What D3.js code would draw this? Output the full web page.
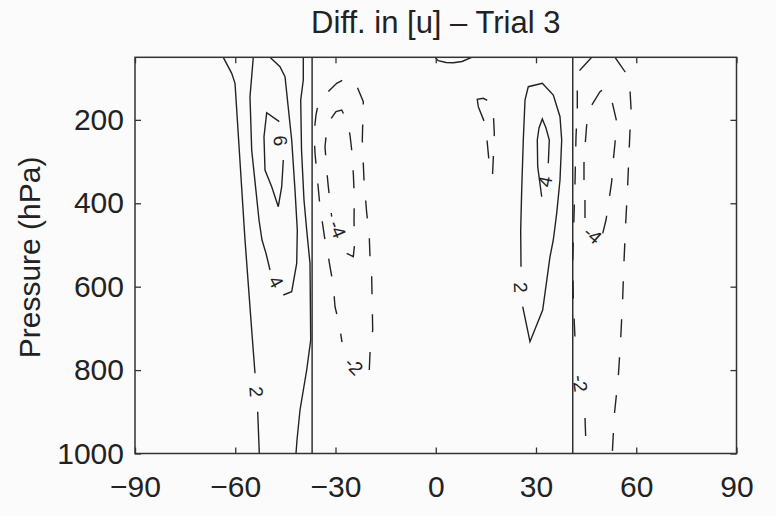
<!DOCTYPE html>
<html>
<head>
<meta charset="utf-8">
<script src="https://cdn.jsdelivr.net/npm/d3@7"></script>
<style>
  html, body { margin: 0; padding: 0; background: #fbfbfb; }
  svg { display: block; font-family: "Liberation Sans", Arial, Helvetica, sans-serif; }
</style>
</head>
<body>
<script>
// chart size
var width = 776,
    height = 516;
var margin = {top: 57.3, right: 39.5, bottom: 62.5, left: 135};

// ticks
var latTicks = [-90, -60, -30, 0, 30, 60, 90];
var presTicks = [200, 400, 600, 800, 1000];

// jet latitudes (vertical lines)
var jetLats = [-37, 41];

// contours: [lat, hPa], {t, lat, p} marks a label break
var pos2West = [[-63.58, 50], [-61.06, 88.4], [-60.07, 112.3], [-57.08, 488.1], [-55.08, 703.9], [-54.09, 807.7],
  {t: "2", lat: -53.7, p: 852}, [-53.28, 899.8], [-52.80, 1000]];
var pos2WestB = [[-39.64, 50], [-39.64, 104.4], [-40.41, 152.4], [-40.17, 272.3], [-39.43, 392.2], [-38.62, 464.1],
  [-37.63, 544.0], [-37.42, 727.9], [-38.62, 799.8], [-40.62, 895.7], [-41.52, 967.6], [-41.82, 1000]];
var pos4West = [[-54.60, 50], [-55.59, 144.5], [-55.08, 272.3], [-52.89, 440.1], [-51.99, 488.1], [-50.80, 520.0],
  [-49.60, 560.0], {t: "4", lat: -47.8, p: 588}, [-45.62, 620.0], [-43.11, 612.0], [-41.61, 544.0], [-41.43, 464.1],
  [-42.12, 368.2], [-43.11, 248.3], [-45.11, 96.5], [-46.61, 72.5], [-49.60, 50]];
var pos6West = [[-46.82, 204.4], [-50.59, 182.8], [-51.40, 240.4], [-51.10, 320.2], [-49.09, 360.3], [-47.12, 408.2],
  [-46.10, 360.3], [-45.62, 296.3], {t: "6", lat: -46.5, p: 250}, [-46.82, 204.4]];
var neg2West = [[-19.89, 799.8], [-19.68, 759.8], [-18.87, 703.9], [-19.17, 576.1], [-19.68, 528.1], [-19.89, 480.2],
  [-20.66, 423.3], [-21.47, 344.2], [-21.98, 248.3], [-21.68, 156.5], [-24.16, 108.5], [-27.16, 102.0],
  [-29.64, 112.3], [-33.14, 140.4], [-35.24, 164.4], [-35.84, 188.4], [-36.43, 232.2], [-36.13, 280.2],
  [-34.64, 408.2], [-33.14, 488.1], [-32.63, 504.1], [-31.65, 552.1], [-30.66, 596.0], [-30.15, 648.0],
  [-28.95, 687.8], [-28.05, 732.7], {t: "-2", lat: -24.5, p: 790}, [-19.89, 799.8]];
var neg4West = [[-26.65, 520.0], [-24.67, 528.1], [-24.31, 500.1], [-24.46, 440.1], [-24.37, 384.3], [-24.67, 328.1],
  [-25.15, 272.3], [-25.66, 236.3], [-26.65, 200.3], [-28.14, 176.4], [-29.85, 180.4], [-31.65, 200.3],
  [-32.63, 224.3], [-33.14, 264.4], [-32.63, 320.2], [-32.15, 360.3], [-31.14, 432.2],
  {t: "-4", lat: -29.4, p: 462}, [-26.65, 520.0]];
var pos2Top = [[-0.22, 50], [0.76, 58.2], [3.07, 62.5], [5.25, 62.9], [7.86, 60.1], [10.76, 50]];
var neg2Mid = [[12.73, 168.5], [12.43, 150.7], [14.23, 148.3], [16.23, 156.5], [17.22, 182.8], [17.52, 232.2],
  [17.34, 272.3], [16.98, 334.6], [16.02, 305.9], [15.43, 256.2], [15.04, 214.7], [12.73, 168.5]];
var pos2East = [[26.02, 648.0], [28.20, 731.9], [32.00, 655.9], [34.19, 528.1], [35.18, 488.1], [36.19, 424.1],
  [37.18, 344.2], [37.69, 248.3], [37.18, 192.4], [35.18, 140.4], [31.89, 112.3], [27.70, 120.5], [26.71, 152.4],
  [26.20, 248.3], [25.72, 368.2], [25.42, 464.1], [25.51, 552.1], {t: "2", lat: 25.4, p: 602}, [26.02, 648.0]];
var pos4East = [[31.71, 384.3], [30.51, 312.3], [30.39, 248.3], [30.90, 219.5], [31.89, 197.9], [32.99, 219.5],
  [33.98, 248.3], [33.68, 304.2], {t: "4", lat: 32.69, p: 348}, [31.71, 384.3]];
var neg2EastA = [[46.67, 50], [43.17, 80.5], [42.36, 128.4], [42.36, 171.6], [41.97, 240.4], [41.67, 352.1],
  [41.16, 488.1], [40.98, 536.0], [41.16, 632.0], [41.67, 723.8], {t: "-2", lat: 43.2, p: 832},
  [44.66, 914.9], [44.87, 959.7], [44.96, 1000]];
var neg2EastB = [[53.64, 50], [56.63, 84.5], [58.13, 128.4], [58.43, 172.3], [57.92, 264.4], [57.44, 356.2],
  [56.84, 448.0], [56.33, 540.1], [55.94, 627.9], [55.35, 723.8], [54.63, 815.9], [53.43, 907.7], [52.83, 1000]];
var neg4East = [[49.96, 472.0], [50.95, 440.1], [51.93, 388.1], [52.65, 348.3], [53.13, 296.3], [53.64, 256.2],
  [54.15, 204.4], [52.65, 152.4], [50.65, 124.3], [49.15, 132.5], [46.16, 171.6], [45.17, 212.3], [44.66, 264.4],
  [44.36, 304.2], [44.36, 352.1], [44.66, 396.2], [44.66, 435.3], {t: "-4", lat: 47.0, p: 476}, [49.96, 472.0]];

var contours = [
  {level: 2, pts: pos2West}, {level: 2, pts: pos2WestB}, {level: 4, pts: pos4West}, {level: 6, pts: pos6West},
  {level: -2, pts: neg2West}, {level: -4, pts: neg4West}, {level: 2, pts: pos2Top}, {level: -2, pts: neg2Mid},
  {level: 2, pts: pos2East}, {level: 4, pts: pos4East}, {level: -2, pts: neg2EastA}, {level: -2, pts: neg2EastB},
  {level: -4, pts: neg4East}
];

// scales
var x = d3.scaleLinear().domain([-90, 90]).range([margin.left, width - margin.right]);
var y = d3.scaleLinear().domain([50, 1000]).range([margin.top, height - margin.bottom]);

var svg = d3.select("body")
    .append("svg")
    .attr("width", width)
    .attr("height", height);

svg.append("rect")
    .attr("width", width)
    .attr("height", height)
    .attr("fill", "#fbfbfb");

// title
svg.append("text")
    .attr("x", (x(-90) + x(90)) / 2)
    .attr("y", 33)
    .attr("text-anchor", "middle")
    .attr("font-size", "31px")
    .attr("fill", "#222")
    .text("Diff. in [u] \u2013 Trial 3");

// y label
svg.append("text")
    .attr("transform", "translate(40," + ((y(50) + y(1000)) / 2 + 2) + ") rotate(-90)")
    .attr("text-anchor", "middle")
    .attr("font-size", "30px")
    .attr("fill", "#222")
    .text("Pressure (hPa)");

var plot = svg.append("g");
plot.append("clipPath").attr("id", "clip")
  .append("rect")
    .attr("x", x(-90)).attr("y", y(50))
    .attr("width", x(90) - x(-90)).attr("height", y(1000) - y(50));

var line = d3.line()
    .x(function(d) { return x(d[0]); })
    .y(function(d) { return y(d[1]); });

var lines = plot.append("g").attr("clip-path", "url(#clip)");

// vertical jet lines
lines.selectAll(".jet")
    .data(jetLats)
    .enter()
    .append("line")
    .attr("x1", function(d) { return x(d); })
    .attr("x2", function(d) { return x(d); })
    .attr("y1", y(50))
    .attr("y2", y(1000))
    .attr("stroke", "#222")
    .attr("stroke-width", 1.4);

// contours, split into pieces at label breaks
contours.forEach(function(c) {
    var pieces = [[]];
    var labels = [];
    c.pts.forEach(function(d, i) {
        if (Array.isArray(d)) {
            pieces[pieces.length - 1].push(d);
        } else {
            var a = c.pts[i - 1], b = c.pts[i + 1];
            var ang = Math.atan2(y(b[1]) - y(a[1]), x(b[0]) - x(a[0])) * 180 / Math.PI;
            if (ang > 90) ang -= 180;
            if (ang <= -90) ang += 180;
            labels.push({t: d.t, lat: d.lat, p: d.p, ang: ang});
            pieces.push([]);
        }
    });

    lines.selectAll(null)
        .data(pieces.filter(function(p) { return p.length > 1; }))
        .enter()
        .append("path")
        .attr("d", line)
        .attr("fill", "none")
        .attr("stroke", "#222")
        .attr("stroke-width", 1.4)
        .attr("stroke-dasharray", c.level < 0 ? "18,20" : null);

    lines.selectAll(null)
        .data(labels)
        .enter()
        .append("text")
        .attr("transform", function(d) {
            return "translate(" + x(d.lat) + "," + y(d.p) + ") rotate(" + d.ang + ")";
        })
        .attr("text-anchor", "middle")
        .attr("dy", "0.35em")
        .attr("font-size", "19px")
        .attr("fill", "#222")
        .text(function(d) { return d.t; });
});

// axes
var axisColor = "#333";
function styleAxis(g) {
    g.select(".domain").remove();
    g.selectAll(".tick line").attr("stroke", axisColor).attr("stroke-width", 1.3);
    g.selectAll(".tick text").attr("fill", "#222").attr("font-size", "30px");
    g.attr("font-family", null);
}

svg.append("g")
    .attr("transform", "translate(0," + y(1000) + ")")
    .call(d3.axisBottom(x).tickValues(latTicks).tickSize(-6).tickPadding(22))
    .call(styleAxis);

svg.append("g")
    .attr("transform", "translate(0," + y(50) + ")")
    .call(d3.axisTop(x).tickValues(latTicks).tickSize(-6).tickFormat(""))
    .call(styleAxis);

svg.append("g")
    .attr("transform", "translate(" + x(-90) + ",0)")
    .call(d3.axisLeft(y).tickValues(presTicks).tickSize(-6).tickPadding(11).tickFormat(d3.format("d")))
    .call(styleAxis);

svg.append("g")
    .attr("transform", "translate(" + x(90) + ",0)")
    .call(d3.axisRight(y).tickValues(presTicks).tickSize(-6).tickFormat(""))
    .call(styleAxis);

// box
svg.append("rect")
    .attr("x", x(-90))
    .attr("y", y(50))
    .attr("width", x(90) - x(-90))
    .attr("height", y(1000) - y(50))
    .attr("fill", "none")
    .attr("stroke", axisColor)
    .attr("stroke-width", 1.5);
</script>
</body>
</html>
